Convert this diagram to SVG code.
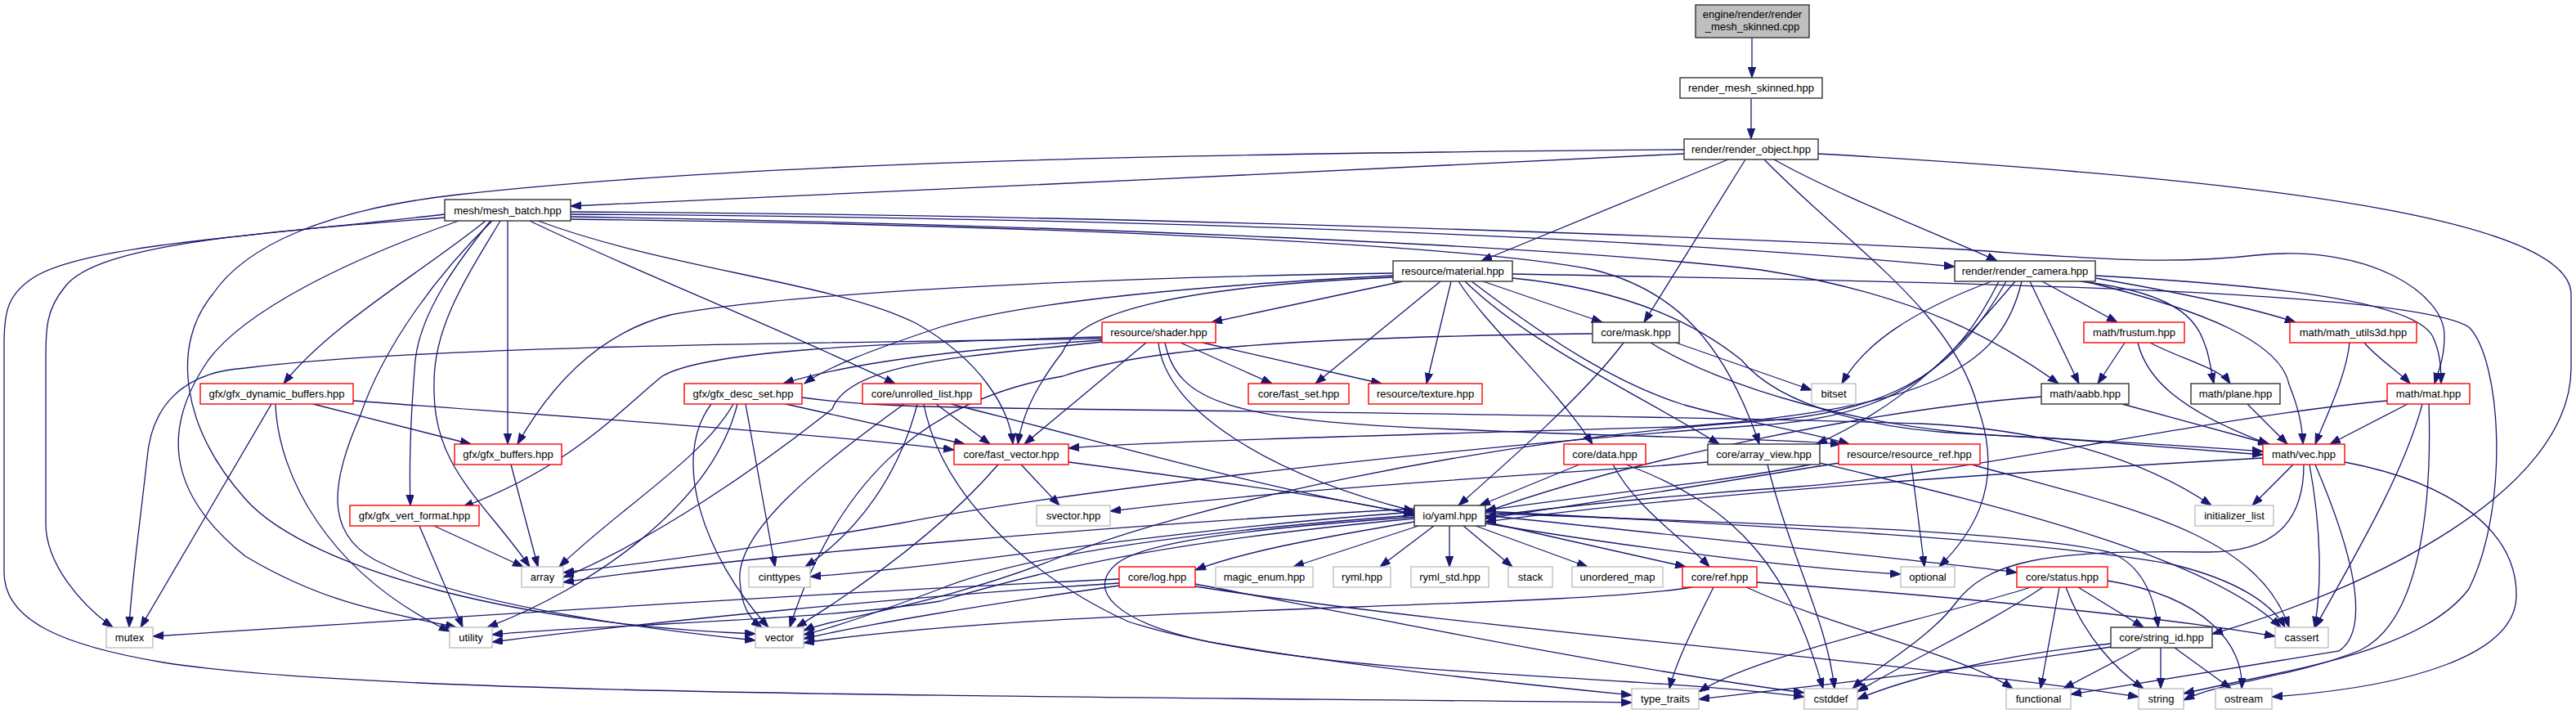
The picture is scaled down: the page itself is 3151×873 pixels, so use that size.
<svg xmlns="http://www.w3.org/2000/svg" width="3151" height="873" viewBox="0 0 3151 873">
<style>
.e{fill:none;stroke:#191970;stroke-width:1.3;marker-end:url(#ah)}
rect{fill:#fff;stroke-width:1.4}
.k{stroke:#333}
.r{stroke:#ff0000}
.g{stroke:#bfbfbf}
.root{fill:#bfbfbf;stroke:#333}
text{font-family:"Liberation Sans",Arial,Helvetica,sans-serif;font-size:13px;text-anchor:middle;fill:#000}
</style>
<defs>
<marker id="ah" markerUnits="userSpaceOnUse" markerWidth="14" markerHeight="10" viewBox="0 0 14 10" refX="13" refY="4.7" orient="auto">
<path d="M0,0 L13,4.7 L0,9.4 z" fill="#191970" stroke="#191970" stroke-width="1"/>
</marker>
</defs>
<rect x="0" y="0" width="3151" height="873" style="fill:#fff;stroke:none"/>
<g id="connectors">
<path class="e" d="M2143,46 L2143,95"/>
<path class="e" d="M2142,121 L2142,170"/>
<path class="e" d="M2060,188 C1700,205 1000,240 698,252"/>
<path class="e" d="M2114,195 L1812,319"/>
<path class="e" d="M2135,195 L2011,394"/>
<path class="e" d="M2170,195 C2250,240 2380,290 2443,319"/>
<path class="e" d="M2158,195 C2260,300 2390,380 2420,500 C2455,600 2405,660 2372,693"/>
<path class="e" d="M2224,188 C2700,215 3145,260 3145,360 L3145,450 C3145,600 2900,720 2706,775"/>
<path class="e" d="M2060,183 C1400,188 900,200 560,238 C400,256 300,300 260,360 C210,420 220,520 300,610 C380,700 650,765 924,775"/>
<path class="e" d="M544,262 C300,290 100,300 40,340 C10,360 5,380 5,420 L5,700 C5,760 80,790 200,810 C450,850 1200,850 1996,859"/>
<path class="e" d="M544,266 C300,285 120,300 80,350 C55,380 56,400 56,460 L56,640 C56,690 100,740 138,767"/>
<path class="e" d="M561,270 C420,320 300,380 255,440 C200,520 200,600 300,680 C400,740 480,750 558,767"/>
<path class="e" d="M594,270 C520,330 400,400 347,469"/>
<path class="e" d="M602,270 C540,330 470,420 440,510 C400,600 400,660 470,690 C560,735 750,765 924,783"/>
<path class="e" d="M600,270 C560,320 515,380 508,440 C503,500 500,560 502,618"/>
<path class="e" d="M612,270 C570,340 530,400 531,470 C528,570 590,610 648,693"/>
<path class="e" d="M621,270 L621,543"/>
<path class="e" d="M648,270 C750,320 950,400 1095,469"/>
<path class="e" d="M658,270 C820,330 1020,345 1120,395 C1200,440 1235,500 1239,543"/>
<path class="e" d="M698,262 C1200,265 1900,280 2391,326"/>
<path class="e" d="M698,259 C1300,262 2000,285 2400,305 C2550,315 2650,325 2760,312 C2900,298 2990,360 2990,410 C2990,440 2982,455 2978,469"/>
<path class="e" d="M698,265 C1300,275 1900,300 2154,330 C2350,360 2450,420 2518,469"/>
<path class="e" d="M698,268 C1300,275 1800,300 1950,330 C2050,355 2110,420 2152,543"/>
<path class="e" d="M1716,344 L1482,394"/>
<path class="e" d="M1814,344 L1960,394"/>
<path class="e" d="M1704,337 C1450,350 1250,370 1150,400 C1060,430 1010,450 984,469"/>
<path class="e" d="M1704,339 C1450,350 1320,380 1300,430 C1265,475 1250,510 1245,543"/>
<path class="e" d="M1704,334 C1300,340 950,360 820,385 C740,405 680,460 633,543"/>
<path class="e" d="M1762,344 L1609,469"/>
<path class="e" d="M1775,344 L1745,469"/>
<path class="e" d="M1784,344 C1820,400 1900,470 1948,543"/>
<path class="e" d="M1792,344 C1870,420 2000,480 2103,543"/>
<path class="e" d="M1800,344 C1900,420 1980,470 2060,495 C2150,520 2220,530 2262,543"/>
<path class="e" d="M1850,335 C2400,345 2950,355 3020,400 C3060,440 3070,620 3020,720 C2960,800 2790,820 2671,848"/>
<path class="e" d="M1850,340 C2000,355 2080,400 2130,440 C2180,500 2300,525 2400,530 C2550,538 2680,545 2768,552"/>
<path class="e" d="M2436,344 C2340,380 2280,420 2253,469"/>
<path class="e" d="M2483,344 L2543,469"/>
<path class="e" d="M2498,344 L2590,394"/>
<path class="e" d="M2545,344 C2680,360 2690,400 2700,430 C2705,450 2706,460 2708,469"/>
<path class="e" d="M2563,340 C2650,355 2750,375 2808,394"/>
<path class="e" d="M2563,337 C2800,350 2950,370 2975,410 C2985,430 2986,450 2986,469"/>
<path class="e" d="M2550,344 C2700,380 2790,420 2800,470 C2812,500 2816,520 2817,543"/>
<path class="e" d="M2465,344 C2400,420 2340,490 2222,543"/>
<path class="e" d="M2473,344 C2450,440 2380,500 2050,522 C1700,532 1400,540 1307,548"/>
<path class="e" d="M2454,344 C2400,440 2330,505 2150,515 C1800,540 1450,620 1300,680 C1150,740 1020,755 983,771"/>
<path class="e" d="M2445,344 C2395,445 2325,510 2150,520 C1800,545 1300,600 1100,640 C900,675 780,690 689,700"/>
<path class="e" d="M2050,419 L2216,477"/>
<path class="e" d="M1986,419 C1940,480 1850,560 1784,618"/>
<path class="e" d="M2019,419 C2100,470 2280,530 2500,535 C2620,545 2700,550 2768,556"/>
<path class="e" d="M1948,408 C1600,412 1400,425 1300,460 C1120,490 1020,600 966,767"/>
<path class="e" d="M1402,419 L1253,543"/>
<path class="e" d="M1417,419 C1425,500 1550,580 1730,625"/>
<path class="e" d="M1444,419 L1556,469"/>
<path class="e" d="M1471,419 L1690,469"/>
<path class="e" d="M1348,416 C1200,425 1050,440 958,469"/>
<path class="e" d="M1348,412 C1050,420 860,430 810,460 C760,500 700,570 566,620"/>
<path class="e" d="M1348,414 C900,420 500,425 300,450 C220,455 185,500 180,560 C170,650 160,720 158,767"/>
<path class="e" d="M1425,419 C1440,490 1500,515 1780,525 C2000,535 2150,535 2252,543"/>
<path class="e" d="M1348,418 C1200,435 1040,440 1018,500 C930,570 800,660 689,706"/>
<path class="e" d="M2599,419 L2566,469"/>
<path class="e" d="M2630,419 C2670,440 2715,450 2728,469"/>
<path class="e" d="M2615,419 C2625,460 2660,500 2775,543"/>
<path class="e" d="M2892,419 C2910,440 2935,455 2948,469"/>
<path class="e" d="M2874,419 C2870,460 2845,510 2832,543"/>
<path class="e" d="M332,494 L172,767"/>
<path class="e" d="M337,494 C340,580 400,700 550,772"/>
<path class="e" d="M383,494 L576,543"/>
<path class="e" d="M432,490 C700,510 1000,530 1167,550"/>
<path class="e" d="M897,494 C860,560 760,620 684,693"/>
<path class="e" d="M902,494 C870,620 720,720 596,767"/>
<path class="e" d="M912,494 L948,693"/>
<path class="e" d="M961,494 L1180,543"/>
<path class="e" d="M870,494 C820,560 860,680 940,767"/>
<path class="e" d="M981,486 C1040,494 1100,498 1300,500 C1700,505 2100,510 2351,518 C2500,525 2620,560 2705,618"/>
<path class="e" d="M1106,494 C1000,570 900,650 905,710 C907,740 915,755 932,767"/>
<path class="e" d="M1122,494 C1100,580 1050,650 985,693"/>
<path class="e" d="M1130,494 C1150,600 1250,700 1380,760 C1600,830 1950,820 2207,852"/>
<path class="e" d="M1145,494 L1211,543"/>
<path class="e" d="M1163,494 C1350,540 1550,600 1730,628"/>
<path class="e" d="M2596,494 L2776,543"/>
<path class="e" d="M2497,485 C2300,500 2000,560 1817,626"/>
<path class="e" d="M2749,494 L2798,543"/>
<path class="e" d="M2945,494 L2850,543"/>
<path class="e" d="M2963,494 C2940,580 2880,680 2832,767"/>
<path class="e" d="M2971,494 C2975,620 2960,760 2887,795 C2800,830 2720,832 2671,856"/>
<path class="e" d="M2920,490 C2700,510 2400,580 2200,595 C2050,605 1900,620 1817,632"/>
<path class="e" d="M625,568 L658,693"/>
<path class="e" d="M1221,568 C1150,650 1050,720 974,767"/>
<path class="e" d="M1249,568 L1296,618"/>
<path class="e" d="M1307,565 C1500,590 1650,610 1730,630"/>
<path class="e" d="M1932,568 L1810,618"/>
<path class="e" d="M1973,568 C2000,620 2060,660 2091,693"/>
<path class="e" d="M1989,568 C2130,620 2190,700 2230,842"/>
<path class="e" d="M2089,565 C1900,580 1600,595 1358,625"/>
<path class="e" d="M2162,568 C2190,680 2235,760 2244,842"/>
<path class="e" d="M2226,566 C2450,620 2700,680 2790,767"/>
<path class="e" d="M2215,568 C2100,590 1950,605 1817,624"/>
<path class="e" d="M2250,566 C2100,590 1950,615 1817,634"/>
<path class="e" d="M2338,568 L2354,693"/>
<path class="e" d="M2412,568 C2600,620 2760,650 2800,767"/>
<path class="e" d="M2805,568 L2755,618"/>
<path class="e" d="M2818,568 C2818,640 2780,675 2700,675 C2500,672 2430,685 2390,740 C2360,780 2290,820 2266,842"/>
<path class="e" d="M2825,568 C2840,650 2840,720 2831,767"/>
<path class="e" d="M2832,568 C2880,680 2900,770 2861,796 L2533,849"/>
<path class="e" d="M2868,565 C3000,590 3080,650 3078,730 C3076,800 2950,840 2779,852"/>
<path class="e" d="M2768,560 C2500,575 2100,600 1817,638"/>
<path class="e" d="M531,643 L640,693"/>
<path class="e" d="M513,643 L566,767"/>
<path class="e" d="M1730,622 C1400,640 900,680 689,712"/>
<path class="e" d="M1730,626 C1400,650 1200,690 991,705"/>
<path class="e" d="M1730,630 C1450,650 1250,680 1150,720 C1070,750 1010,770 983,776"/>
<path class="e" d="M1730,634 C1450,660 1300,690 1150,735 C1000,760 700,765 602,776"/>
<path class="e" d="M1730,638 C1600,660 1520,675 1462,697"/>
<path class="e" d="M1735,643 L1582,693"/>
<path class="e" d="M1754,643 L1688,693"/>
<path class="e" d="M1773,643 L1773,693"/>
<path class="e" d="M1790,643 L1850,693"/>
<path class="e" d="M1805,643 L1942,693"/>
<path class="e" d="M1817,638 L2062,693"/>
<path class="e" d="M1817,640 C2000,670 2200,695 2325,702"/>
<path class="e" d="M1817,630 C2100,660 2350,685 2467,700"/>
<path class="e" d="M1817,627 C2100,640 2450,645 2580,675 C2620,690 2635,730 2640,767"/>
<path class="e" d="M1817,625 C2100,640 2500,660 2657,690 C2740,710 2780,740 2795,767"/>
<path class="e" d="M1730,632 C1550,645 1400,660 1365,690 C1330,720 1360,760 1480,785 C1650,815 1850,835 1996,850"/>
<path class="e" d="M1369,708 C1100,720 700,745 187,778"/>
<path class="e" d="M1369,713 C1100,730 800,760 602,785"/>
<path class="e" d="M1369,716 C1200,740 1050,765 983,781"/>
<path class="e" d="M1462,714 C1700,760 2000,820 2207,847"/>
<path class="e" d="M1462,717 C1800,770 2300,805 2616,852"/>
<path class="e" d="M2096,718 C2070,770 2050,810 2042,842"/>
<path class="e" d="M2136,718 C2250,770 2400,800 2462,842"/>
<path class="e" d="M2070,718 C1900,745 1300,740 983,786"/>
<path class="e" d="M2149,712 C2400,730 2650,755 2783,778"/>
<path class="e" d="M2484,718 C2350,760 2150,800 2078,846"/>
<path class="e" d="M2499,718 C2420,770 2330,810 2272,846"/>
<path class="e" d="M2519,718 L2496,842"/>
<path class="e" d="M2527,718 C2550,780 2590,820 2622,842"/>
<path class="e" d="M2542,718 L2622,767"/>
<path class="e" d="M2578,710 C2700,730 2745,790 2742,842"/>
<path class="e" d="M2619,792 L2524,842"/>
<path class="e" d="M2643,792 L2643,842"/>
<path class="e" d="M2660,792 L2729,842"/>
<path class="e" d="M2582,787 C2450,800 2330,830 2272,855"/>
<path class="e" d="M2582,791 C2400,820 2200,840 2078,855"/>
</g>
<g id="node-engine"><rect class="root" x="2074" y="6" width="139" height="40"/><text x="2143.5" y="22">engine/render/render</text><text x="2143.5" y="37">_mesh_skinned.cpp</text></g>
<g id="node-render_mesh_skinned"><rect class="k" x="2055" y="95" width="174" height="25"/><text x="2142" y="112">render_mesh_skinned.hpp</text></g>
<g id="node-render_object"><rect class="k" x="2060" y="170" width="164" height="25"/><text x="2142" y="187">render/render_object.hpp</text></g>
<g id="node-mesh_batch"><rect class="k" x="544" y="244" width="154" height="26"/><text x="621" y="262">mesh/mesh_batch.hpp</text></g>
<g id="node-material"><rect class="k" x="1704" y="319" width="146" height="25"/><text x="1777" y="336">resource/material.hpp</text></g>
<g id="node-render_camera"><rect class="k" x="2391" y="319" width="172" height="25"/><text x="2477" y="336">render/render_camera.hpp</text></g>
<g id="node-mask"><rect class="k" x="1948" y="394" width="106" height="25"/><text x="2001" y="411">core/mask.hpp</text></g>
<g id="node-shader"><rect class="r" x="1348" y="394" width="139" height="25"/><text x="1417.5" y="411">resource/shader.hpp</text></g>
<g id="node-frustum"><rect class="r" x="2549" y="394" width="123" height="25"/><text x="2610.5" y="411">math/frustum.hpp</text></g>
<g id="node-math_utils3d"><rect class="r" x="2801" y="394" width="155" height="25"/><text x="2878.5" y="411">math/math_utils3d.hpp</text></g>
<g id="node-gfx_dynamic_buffers"><rect class="r" x="245" y="469" width="187" height="25"/><text x="338.5" y="486">gfx/gfx_dynamic_buffers.hpp</text></g>
<g id="node-gfx_desc_set"><rect class="r" x="837" y="469" width="144" height="25"/><text x="909" y="486">gfx/gfx_desc_set.hpp</text></g>
<g id="node-unrolled_list"><rect class="r" x="1055" y="469" width="145" height="25"/><text x="1127.5" y="486">core/unrolled_list.hpp</text></g>
<g id="node-fast_set"><rect class="r" x="1527" y="469" width="123" height="25"/><text x="1588.5" y="486">core/fast_set.hpp</text></g>
<g id="node-texture"><rect class="r" x="1674" y="469" width="139" height="25"/><text x="1743.5" y="486">resource/texture.hpp</text></g>
<g id="node-bitset"><rect class="g" x="2216" y="469" width="54" height="25"/><text x="2243" y="486">bitset</text></g>
<g id="node-aabb"><rect class="k" x="2497" y="469" width="107" height="25"/><text x="2550.5" y="486">math/aabb.hpp</text></g>
<g id="node-plane"><rect class="k" x="2680" y="469" width="109" height="25"/><text x="2734.5" y="486">math/plane.hpp</text></g>
<g id="node-mat"><rect class="r" x="2920" y="469" width="101" height="25"/><text x="2970.5" y="486">math/mat.hpp</text></g>
<g id="node-gfx_buffers"><rect class="r" x="556" y="543" width="131" height="25"/><text x="621.5" y="560">gfx/gfx_buffers.hpp</text></g>
<g id="node-fast_vector"><rect class="r" x="1167" y="543" width="140" height="25"/><text x="1237" y="560">core/fast_vector.hpp</text></g>
<g id="node-data"><rect class="r" x="1913" y="543" width="100" height="25"/><text x="1963" y="560">core/data.hpp</text></g>
<g id="node-array_view"><rect class="k" x="2089" y="543" width="137" height="25"/><text x="2157.5" y="560">core/array_view.hpp</text></g>
<g id="node-resource_ref"><rect class="r" x="2249" y="543" width="173" height="25"/><text x="2335.5" y="560">resource/resource_ref.hpp</text></g>
<g id="node-vec"><rect class="r" x="2768" y="543" width="100" height="25"/><text x="2818" y="560">math/vec.hpp</text></g>
<g id="node-gfx_vert_format"><rect class="r" x="428" y="618" width="158" height="25"/><text x="507" y="635">gfx/gfx_vert_format.hpp</text></g>
<g id="node-svector"><rect class="g" x="1268" y="618" width="90" height="25"/><text x="1313" y="635">svector.hpp</text></g>
<g id="node-yaml"><rect class="k" x="1730" y="618" width="87" height="25"/><text x="1773.5" y="635">io/yaml.hpp</text></g>
<g id="node-initializer_list"><rect class="g" x="2685" y="618" width="96" height="25"/><text x="2733" y="635">initializer_list</text></g>
<g id="node-array"><rect class="g" x="638" y="693" width="51" height="25"/><text x="663.5" y="710">array</text></g>
<g id="node-cinttypes"><rect class="g" x="916" y="693" width="75" height="25"/><text x="953.5" y="710">cinttypes</text></g>
<g id="node-log"><rect class="r" x="1369" y="693" width="93" height="25"/><text x="1415.5" y="710">core/log.hpp</text></g>
<g id="node-magic_enum"><rect class="g" x="1487" y="693" width="119" height="25"/><text x="1546.5" y="710">magic_enum.hpp</text></g>
<g id="node-ryml"><rect class="g" x="1631" y="693" width="70" height="25"/><text x="1666" y="710">ryml.hpp</text></g>
<g id="node-ryml_std"><rect class="g" x="1726" y="693" width="95" height="25"/><text x="1773.5" y="710">ryml_std.hpp</text></g>
<g id="node-stack"><rect class="g" x="1845" y="693" width="54" height="25"/><text x="1872" y="710">stack</text></g>
<g id="node-unordered_map"><rect class="g" x="1923" y="693" width="111" height="25"/><text x="1978.5" y="710">unordered_map</text></g>
<g id="node-ref"><rect class="r" x="2058" y="693" width="91" height="25"/><text x="2103.5" y="710">core/ref.hpp</text></g>
<g id="node-optional"><rect class="g" x="2325" y="693" width="66" height="25"/><text x="2358" y="710">optional</text></g>
<g id="node-status"><rect class="r" x="2467" y="693" width="111" height="25"/><text x="2522.5" y="710">core/status.hpp</text></g>
<g id="node-mutex"><rect class="g" x="130" y="767" width="57" height="25"/><text x="158.5" y="784">mutex</text></g>
<g id="node-utility"><rect class="g" x="550" y="767" width="52" height="25"/><text x="576" y="784">utility</text></g>
<g id="node-vector"><rect class="g" x="924" y="767" width="59" height="25"/><text x="953.5" y="784">vector</text></g>
<g id="node-string_id"><rect class="k" x="2582" y="767" width="124" height="25"/><text x="2644" y="784">core/string_id.hpp</text></g>
<g id="node-cassert"><rect class="g" x="2783" y="767" width="65" height="25"/><text x="2815.5" y="784">cassert</text></g>
<g id="node-type_traits"><rect class="g" x="1996" y="842" width="82" height="25"/><text x="2037" y="859">type_traits</text></g>
<g id="node-cstddef"><rect class="g" x="2207" y="842" width="65" height="25"/><text x="2239.5" y="859">cstddef</text></g>
<g id="node-functional"><rect class="g" x="2454" y="842" width="79" height="25"/><text x="2493.5" y="859">functional</text></g>
<g id="node-string"><rect class="g" x="2616" y="842" width="55" height="25"/><text x="2643.5" y="859">string</text></g>
<g id="node-ostream"><rect class="g" x="2710" y="842" width="69" height="25"/><text x="2744.5" y="859">ostream</text></g>
</svg>
